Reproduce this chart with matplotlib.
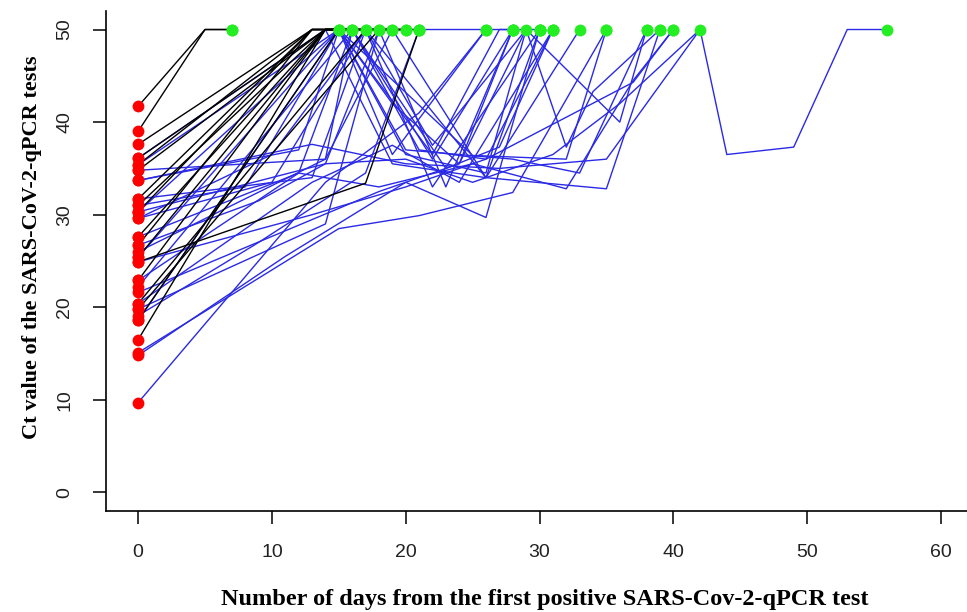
import matplotlib
matplotlib.use('Agg')
import matplotlib.pyplot as plt

# patients who turned negative quickly (black lines)
black_days = [
    [0, 5, 7], [0, 5, 7], [0, 13, 15], [0, 14, 16], [0, 13, 17], [0, 14, 15],
    [0, 13, 18], [0, 14, 19], [0, 13, 16], [0, 14, 20], [0, 13, 15], [0, 14, 17],
    [0, 14, 21], [0, 17, 21], [0, 18, 19], [0, 17, 18], [0, 14, 16], [0, 15, 20],
]
black_ct = [
    [41.7, 50, 50], [39.0, 50, 50], [37.6, 50, 50], [36.1, 50, 50], [35.4, 50, 50], [34.8, 50, 50],
    [31.7, 50, 50], [31.0, 50, 50], [30.3, 50, 50], [27.6, 50, 50], [26.7, 50, 50], [25.4, 50, 50],
    [22.9, 50, 50], [24.9, 33.4, 50], [19.8, 50, 50], [20.4, 50, 50], [16.5, 50, 50], [18.6, 50, 50],
]

# patients with longer / fluctuating courses (blue lines)
blue_days = [
    [0, 13, 20, 27, 35, 42, 44, 49, 53, 56],
    [0, 14, 21, 26],
    [0, 15, 21, 28, 35],
    [0, 11, 20, 26, 30],
    [0, 15, 25, 32, 35],
    [0, 9, 17, 21, 28],
    [0, 13, 19, 24, 31],
    [0, 16, 22, 28],
    [0, 15, 20, 26, 29, 32, 34, 39],
    [0, 14, 19, 26, 33],
    [0, 12, 18, 25, 32, 37, 40],
    [0, 10, 17, 22, 30],
    [0, 14, 18, 21],
    [0, 8, 15, 20, 28, 33, 38],
    [0, 13, 17, 22, 29],
    [0, 12, 15, 19, 26],
    [0, 14, 16, 23, 27, 31],
    [0, 15, 22, 27, 30],
    [0, 14, 19, 26, 35, 39],
    [0, 13, 20, 26, 37, 40],
    [0, 18, 24, 29, 36, 38],
    [0, 14, 18, 23, 28],
    [0, 9, 14, 20, 25, 31, 36, 42],
    [0, 15, 19, 24, 28],
    [0, 12, 16, 21, 26, 31],
    [0, 10, 17, 26, 30],
]
blue_ct = [
    [33.7, 37.6, 35.5, 35.0, 36.0, 50, 36.5, 37.3, 50, 50],
    [9.7, 33.5, 41.0, 50],
    [15.1, 28.5, 29.9, 32.4, 50],
    [14.8, 25.5, 33.5, 29.7, 50],
    [18.6, 50, 36.4, 36.0, 50],
    [19.1, 27.0, 34.5, 50, 50],
    [20.4, 33.5, 37.5, 33.5, 50],
    [22.2, 50, 36.0, 50],
    [25.4, 50, 36.5, 34.5, 50, 37.3, 43.3, 50],
    [26.0, 36.0, 50, 34.0, 50],
    [27.6, 34.5, 33.0, 35.5, 32.8, 44.5, 50],
    [29.6, 33.5, 50, 33.0, 50],
    [30.3, 35.5, 50, 50],
    [31.0, 33.0, 50, 37.0, 36.0, 34.5, 50],
    [31.7, 34.0, 50, 37.5, 50],
    [33.7, 37.0, 50, 36.5, 50],
    [34.8, 36.0, 50, 35.0, 37.3, 50],
    [35.4, 50, 36.5, 50, 50],
    [36.1, 50, 35.5, 34.0, 32.8, 50],
    [24.9, 30.0, 33.0, 36.0, 44.3, 50],
    [21.6, 32.5, 35.5, 50, 40.0, 50],
    [19.8, 29.0, 50, 33.0, 50],
    [26.7, 31.5, 35.5, 36.0, 33.5, 36.5, 42.0, 50],
    [30.3, 50, 42.0, 35.5, 50],
    [22.9, 34.5, 50, 37.0, 36.0, 50],
    [29.6, 36.5, 50, 34.0, 50],
]

x_ticks = [0, 10, 20, 30, 40, 50, 60]
y_ticks = [0, 10, 20, 30, 40, 50]

fig = plt.figure(figsize=(9.67, 6.12), dpi=100)
ax = fig.add_axes([106 / 967, 1 - 511 / 612, 867 / 967, 500 / 612])

for d, c in zip(blue_days, blue_ct):
    ax.plot(d, c, color='#2a2ae6', lw=1.0, zorder=2)
for d, c in zip(black_days, black_ct):
    ax.plot(d, c, color='black', lw=1.0, zorder=3)

all_days = black_days + blue_days
all_ct = black_ct + blue_ct
ax.plot([d[0] for d in all_days], [c[0] for c in all_ct], 'o', color='red',
        ms=8.5, mew=0, zorder=4)
ax.plot([d[-1] for d in all_days], [c[-1] for c in all_ct], 'o', color='#22ee22',
        ms=8.5, mew=0, zorder=4)

ax.set_xlim(-2.4, 62.4)
ax.set_ylim(-2, 52)
ax.spines['top'].set_visible(False)
ax.spines['right'].set_visible(False)
ax.spines['left'].set_linewidth(1.2)
ax.spines['bottom'].set_linewidth(1.2)

ax.set_xticks(x_ticks)
ax.set_yticks(y_ticks)
ax.tick_params(axis='both', length=9.5, width=1.1, labelsize=14,
               labelcolor='#222222', pad=14, direction='out')
for lab in ax.get_yticklabels():
    lab.set_rotation(90)
    lab.set_va('center')
    lab.set_fontfamily('Liberation Sans')
for lab in ax.get_xticklabels():
    lab.set_fontfamily('Liberation Sans')

fig.text(545 / 967, 1 - 605 / 612, 'Number of days from the first positive SARS-Cov-2-qPCR test',
         ha='center', va='baseline', fontsize=17.5, fontweight='bold', family='Liberation Serif')
fig.text(32 / 967, 1 - 247 / 612, 'Ct value of the SARS-CoV-2-qPCR tests',
         ha='center', va='center', rotation=90, fontsize=16, fontweight='bold',
         family='Liberation Serif')

fig.savefig('out.png', dpi=100)
